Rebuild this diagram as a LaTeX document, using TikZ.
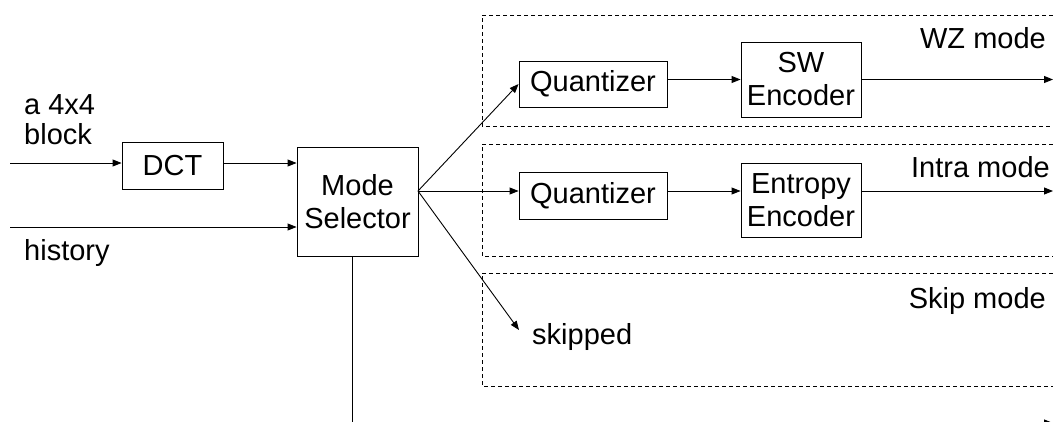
\documentclass[tikz,border=0pt]{standalone}
\usepackage{fontspec}
\setmainfont{Liberation Sans}
\usetikzlibrary{arrows.meta}
\begin{document}
\begin{tikzpicture}[x=1pt,y=-1pt,
  every node/.style={font=\fontsize{29}{33}\selectfont, inner sep=0pt},
  blk/.style={draw, line width=0.9pt, align=center},
  modebox/.style={draw, line width=0.9pt, dash pattern=on 4pt off 3pt},
  lbl/.style={anchor=base west},
  rlbl/.style={anchor=base east},
  conn/.style={line width=0.9pt, -{Triangle[length=9pt,width=7pt]}},
  wire/.style={line width=0.9pt}]
\useasboundingbox (0,0) rectangle (1053,421);
\clip (0,0) rectangle (1053,421);

% dashed mode regions (open to the right)
\draw[modebox] (1060,15) -- (482,15) -- (482,126) -- (1060,126);
\draw[modebox] (1060,144) -- (482,144) -- (482,256) -- (1060,256);
\draw[modebox] (1060,273) -- (482,273) -- (482,386) -- (1060,386);

% processing blocks
\node[blk, minimum width=101pt, minimum height=47pt] (dct) at (172.5,165.5) {DCT};
\node[blk, minimum width=121pt, minimum height=109pt] (ms) at (357.5,201.5) {Mode\\Selector};
\node[blk, minimum width=148pt, minimum height=46pt] (q1) at (593,84) {Quantizer};
\node[blk, minimum width=120pt, minimum height=75pt] (sw) at (801,79.5) {SW\\Encoder};
\node[blk, minimum width=148pt, minimum height=47pt] (q2) at (593,195.5) {Quantizer};
\node[blk, minimum width=120pt, minimum height=74pt] (ee) at (801,200) {Entropy\\Encoder};

% labels
\node[lbl] (l4x4) at (24,114) {a 4x4};
\node[lbl] (lblock) at (24,144) {block};
\node[lbl] (lhist) at (24,260) {history};
\node[rlbl] (lwz) at (1046,48) {WZ mode};
\node[rlbl] (lintra) at (1050,177) {Intra mode};
\node[rlbl] (lskip) at (1046,308) {Skip mode};
\node[lbl] (skipped) at (532,344) {skipped};

% free ends
\coordinate (inblk) at (10,163);
\coordinate (inhist) at (10,227);
\coordinate (fan) at (418,191);
\coordinate (skiptip) at (519,330);
\coordinate (outwz) at (1053,79.5);
\coordinate (outintra) at (1053,191);
\coordinate (msdown) at (352,256);
\coordinate (outbot) at (1053,423);

% connectors
\draw[conn] (inblk) -- (inblk -| dct.west);
\draw[conn] (dct.east |- inblk) -- (inblk -| ms.west);
\draw[conn] (inhist) -- (inhist -| ms.west);
\draw[conn] (fan) -- (q1.west);
\draw[conn] (fan) -- (fan -| q2.west);
\draw[conn] (fan) -- (skiptip);
\draw[conn] (q1.east |- sw.west) -- (sw.west);
\draw[conn] (q2.east |- fan) -- (fan -| ee.west);
\draw[conn] (sw.east) -- (outwz);
\draw[conn] (ee.east |- fan) -- (outintra);
\draw[conn] (msdown) |- (outbot);
\end{tikzpicture}
\end{document}
